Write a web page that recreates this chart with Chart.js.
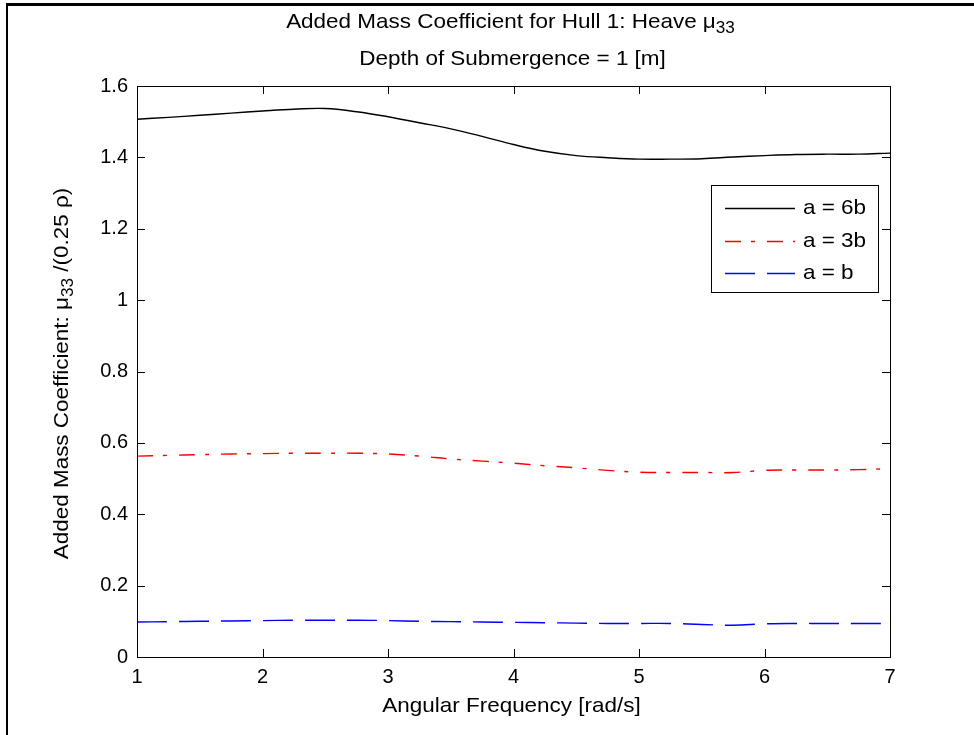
<!DOCTYPE html>
<html lang="en">
<head>
  <meta charset="UTF-8" />
  <title>Added Mass Coefficient for Hull 1: Heave</title>
  <script src="https://cdn.jsdelivr.net/npm/chart.js"></script>
  <style>
    html, body { margin: 0; padding: 0; background: #fff; }
    #wrap { position: relative; width: 974px; height: 735px; overflow: hidden; }
    #frame {
      position: absolute; left: 6px; top: 3px; right: 0; bottom: 0;
      border-top: 3px solid #000; border-left: 2px solid #000;
      pointer-events: none;
    }
    canvas { position: absolute; left: 0; top: 0; }
  </style>
</head>
<body>
  <div id="wrap">
    <canvas id="chart" width="974" height="735"></canvas>
    <div id="frame"></div>
  </div>

  <script>
    // angular frequency [rad/s]
    const freq = [1, 1.25, 1.5, 1.75, 2, 2.25, 2.5, 2.75, 3, 3.25, 3.5, 3.75, 4,
                  4.25, 4.5, 4.75, 5, 5.25, 5.5, 5.75, 6, 6.25, 6.5, 6.75, 7];
    // added mass coefficient mu33 / (0.25 rho)
    const mu6b = [1.507, 1.512, 1.518, 1.524, 1.530, 1.535, 1.537, 1.528, 1.514, 1.497, 1.480, 1.459, 1.436,
                  1.417, 1.405, 1.399, 1.395, 1.395, 1.396, 1.401, 1.405, 1.408, 1.409, 1.409, 1.412];
    const mu3b = [0.563, 0.565, 0.567, 0.569, 0.570, 0.571, 0.571, 0.571, 0.569, 0.563, 0.555, 0.549, 0.543,
                  0.536, 0.530, 0.523, 0.518, 0.517, 0.517, 0.517, 0.523, 0.524, 0.524, 0.525, 0.528];
    const mub  = [0.098, 0.099, 0.100, 0.101, 0.102, 0.103, 0.103, 0.103, 0.102, 0.100, 0.099, 0.098, 0.097,
                  0.096, 0.095, 0.094, 0.094, 0.094, 0.091, 0.089, 0.093, 0.094, 0.094, 0.094, 0.094];
    const seriesLabels = ["a = 6b", "a = 3b", "a = b"];

    const FAMILY = '"Liberation Sans", Arial, sans-serif';
    const SX = 1.07; // text in the source is a bit wide

    function pts(vals) {
      return freq.map((f, i) => ({ x: f, y: vals[i] }));
    }

    // draw text made of parts, some subscripted, centred on (cx, cy)
    function richText(ctx, parts, cx, cy, rot) {
      ctx.save();
      ctx.translate(cx, cy);
      ctx.rotate(rot || 0);
      ctx.scale(SX, 1);
      ctx.fillStyle = "#000";
      ctx.textBaseline = "middle";
      let total = 0;
      parts.forEach(p => {
        ctx.font = (p.sub ? 16 : 21) + "px " + FAMILY;
        p.w = ctx.measureText(p.t).width;
        total += p.w;
      });
      let x = -total / 2;
      parts.forEach(p => {
        ctx.font = (p.sub ? 16 : 21) + "px " + FAMILY;
        ctx.fillText(p.t, x, p.sub ? 7 : 0);
        x += p.w;
      });
      ctx.restore();
    }

    const matlabLook = {
      id: "matlabLook",
      afterDraw(chart) {
        const ctx = chart.ctx;
        const a = chart.chartArea;
        const xs = chart.scales.x, ys = chart.scales.y;
        const tl = 8;

        ctx.save();
        ctx.strokeStyle = "#000";
        ctx.lineWidth = 1;
        ctx.strokeRect(Math.round(a.left) + 0.5, Math.round(a.top) + 0.5,
                       Math.round(a.right - a.left), Math.round(a.bottom - a.top));

        ctx.beginPath();
        xs.ticks.forEach(t => {
          const px = Math.round(xs.getPixelForValue(t.value)) + 0.5;
          ctx.moveTo(px, a.bottom); ctx.lineTo(px, a.bottom - tl);
          ctx.moveTo(px, a.top); ctx.lineTo(px, a.top + tl);
        });
        ys.ticks.forEach(t => {
          const py = Math.round(ys.getPixelForValue(t.value)) + 0.5;
          ctx.moveTo(a.left, py); ctx.lineTo(a.left + tl, py);
          ctx.moveTo(a.right, py); ctx.lineTo(a.right - tl, py);
        });
        ctx.stroke();
        ctx.restore();

        const cx = (a.left + a.right) / 2;
        richText(ctx, [{ t: "Added Mass Coefficient for Hull 1: Heave \u03bc" }, { t: "33", sub: true }], cx - 3, 22);
        richText(ctx, [{ t: "Depth of Submergence = 1 [m]" }], cx - 1, 59);
        richText(ctx, [{ t: "Angular Frequency [rad/s]" }], cx - 2, 706);
        richText(ctx, [{ t: "Added Mass Coefficient: \u03bc" }, { t: "33", sub: true }, { t: " /(0.25 \u03c1)" }],
                 62, (a.top + a.bottom) / 2 + 2, -Math.PI / 2);

        // legend box
        const lx = 711, ly = 185, lw = 167, lh = 107;
        ctx.save();
        ctx.fillStyle = "#fff";
        ctx.fillRect(lx, ly, lw, lh);
        ctx.strokeStyle = "#000";
        ctx.lineWidth = 1;
        ctx.strokeRect(lx + 0.5, ly + 0.5, lw, lh);
        chart.data.datasets.forEach((ds, i) => {
          const y = Math.round(ly + 23 + i * 32.5) + 0.5;
          ctx.strokeStyle = ds.borderColor;
          ctx.lineWidth = ds.borderWidth;
          ctx.setLineDash(ds.borderDash || []);
          ctx.beginPath();
          ctx.moveTo(lx + 14, y);
          ctx.lineTo(lx + 84, y);
          ctx.stroke();
          ctx.setLineDash([]);
          ctx.save();
          ctx.translate(lx + 92, y);
          ctx.scale(SX, 1);
          ctx.fillStyle = "#000";
          ctx.font = "21px " + FAMILY;
          ctx.textBaseline = "middle";
          ctx.fillText(ds.label, 0, 0);
          ctx.restore();
        });
        ctx.restore();
      }
    };

    new Chart(document.getElementById("chart"), {
      type: "line",
      data: {
        datasets: [
          { label: seriesLabels[0], data: pts(mu6b), borderColor: "#000000", borderWidth: 1.4,
            pointRadius: 0, tension: 0.4 },
          { label: seriesLabels[1], data: pts(mu3b), borderColor: "#ff0000", borderWidth: 1.4,
            borderDash: [16, 10, 4, 12], pointRadius: 0, tension: 0.4 },
          { label: seriesLabels[2], data: pts(mub), borderColor: "#0000ff", borderWidth: 1.4,
            borderDash: [30, 12], pointRadius: 0, tension: 0.4 }
        ]
      },
      options: {
        responsive: false,
        animation: false,
        layout: { padding: { top: 86, right: 84, left: 0, bottom: 0 } },
        plugins: { legend: { display: false }, tooltip: { enabled: false } },
        scales: {
          x: {
            type: "linear", min: 1, max: 7,
            grid: { display: false, drawTicks: false },
            border: { display: false },
            ticks: { stepSize: 1, color: "#000", padding: 8, font: { family: FAMILY, size: 20 } },
            afterFit: s => { s.height = 78; }
          },
          y: {
            type: "linear", min: 0, max: 1.6,
            grid: { display: false, drawTicks: false },
            border: { display: false },
            ticks: {
              stepSize: 0.2, color: "#000", padding: 9, font: { family: FAMILY, size: 20 },
              callback: v => String(Number(v.toFixed(1)))
            },
            afterFit: s => { s.width = 137; }
          }
        }
      },
      plugins: [matlabLook]
    });
  </script>
</body>
</html>
